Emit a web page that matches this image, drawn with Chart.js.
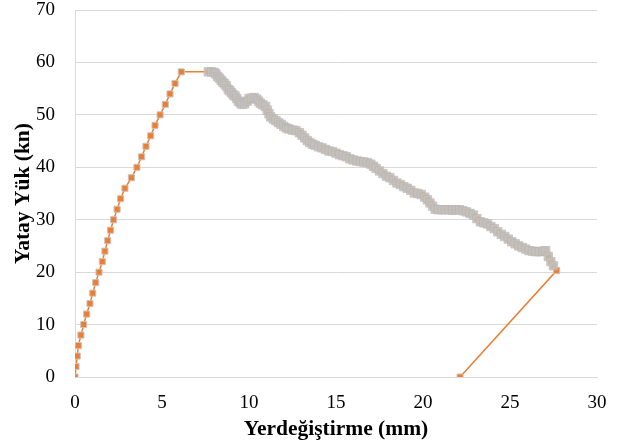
<!DOCTYPE html>
<html>
<head>
<meta charset="utf-8">
<script src="https://cdn.jsdelivr.net/npm/chart.js@4"></script>
<style>
html,body{margin:0;padding:0;background:#fff;}
#wrap{width:618px;height:448px;position:relative;}
</style>
</head>
<body>
<div id="wrap"><canvas id="c" width="618" height="448"></canvas></div>
<script>
// Loading branch (before peak), mm / kN
const preX = [0,0.06,0.13,0.19,0.34,0.5,0.67,0.86,1.02,1.19,1.38,1.57,1.72,1.88,2.04,2.22,2.42,2.62,2.87,3.24,3.56,3.83,4.08,4.35,4.60,4.89,5.19,5.46,5.75,6.11];
const preY = [0,2,4,6,8,10,12,14,16,18,20,22,24,26,28,30,32,34,36,38,40,42,44,46,48,50,52,54,56,58.2];
// Softening branch (after peak)
const postX = [7.66,7.85,8.0,8.1,8.2,8.3,8.4,8.5,8.6,8.7,8.8,8.9,9.0,9.1,9.2,9.3,9.4,9.5,9.6,9.75,9.9,10.0,10.15,10.3,10.45,10.55,10.65,10.8,10.95,11.05,11.15,11.25,11.4,11.55,11.7,11.85,12.0,12.15,12.3,12.5,12.7,12.9,13.05,13.2,13.35,13.5,13.65,13.8,14.0,14.2,14.4,14.6,14.8,15.0,15.2,15.4,15.6,15.8,16.0,16.2,16.4,16.6,16.8,17.0,17.15,17.3,17.5,17.7,17.9,18.1,18.3,18.5,18.7,18.9,19.1,19.3,19.5,19.7,19.9,20.1,20.25,20.4,20.55,20.7,20.9,21.1,21.3,21.5,21.7,21.9,22.1,22.3,22.5,22.7,22.9,23.1,23.3,23.5,23.7,23.9,24.1,24.3,24.5,24.7,24.9,25.1,25.3,25.5,25.7,25.9,26.1,26.3,26.5,26.7,26.9,27.05,27.2,27.35,27.5];
const postY = [58.2,58.2,58.1,57.8,57.3,57.0,56.6,56.2,55.9,55.5,54.9,54.6,54.2,53.8,53.6,53.1,52.6,52.3,52.0,52.1,52.6,53.1,53.2,53.3,53.0,52.6,52.2,51.9,51.6,50.9,50.2,49.6,49.2,48.9,48.5,48.2,47.8,47.5,47.3,47.1,47.0,46.6,46.1,45.6,45.1,44.7,44.4,44.2,43.9,43.7,43.4,43.1,43.0,42.7,42.4,42.2,42.0,41.6,41.4,41.2,41.1,41.0,40.9,40.6,40.2,39.8,39.3,38.8,38.3,38.0,37.5,37.0,36.7,36.3,36.0,35.6,35.1,35.0,34.8,34.3,33.8,33.2,32.6,32.0,31.9,31.9,31.9,31.9,31.8,31.9,31.9,31.7,31.5,31.2,30.9,30.2,29.6,29.4,29.2,28.7,28.3,27.7,27.2,26.8,26.3,25.8,25.4,25.0,24.7,24.4,24.1,24.0,23.9,23.9,24.0,24.1,23.0,22.0,21.2];
// Final points (failure and unloading)
const endX = [27.68,22.13];
const endY = [20.3,0];
const xTicks = [0,5,10,15,20,25,30];
const yTicks = [0,10,20,30,40,50,60,70];
const xTitle = 'Yerdeğiştirme (mm)';
const yTitle = 'Yatay Yük (kn)';

const toPts = (xs, ys) => xs.map((x, i) => ({x: x, y: ys[i]}));
const orangePts = toPts(preX, preY).concat(toPts(postX, postY), toPts(endX, endY));
const grayPts = toPts(postX, postY);

const font = 'Liberation Serif';
new Chart(document.getElementById('c'), {
  type: 'scatter',
  data: {
    datasets: [
      {
        label: 'gray',
        data: grayPts,
        showLine: false,
        pointStyle: 'rect',
        pointRadius: 6,
        backgroundColor: 'rgba(196,193,190,0.75)',
        borderColor: 'rgba(182,179,176,0.6)',
        borderWidth: 1,
        order: 0
      },
      {
        label: 'orange',
        data: orangePts,
        showLine: true,
        borderColor: '#ED7D31',
        borderWidth: 1.5,
        pointStyle: 'rect',
        pointRadius: 4.3,
        pointBackgroundColor: '#ED7D31',
        pointBorderColor: '#C9C4C0',
        pointBorderWidth: 1,
        order: 1
      }
    ]
  },
  options: {
    responsive: false,
    animation: false,
    events: [],
    layout: {padding: 0},
    plugins: {legend: {display: false}, tooltip: {enabled: false}},
    scales: {
      x: {
        type: 'linear', min: 0, max: 30,
        afterBuildTicks: s => { s.ticks = xTicks.map(v => ({value: v})); },
        afterFit: s => { s.height = 71; s.paddingLeft = 0; s.paddingRight = 21; },
        grid: {display: false, drawTicks: false},
        border: {display: true, color: '#d9d9d9', width: 1},
        ticks: {padding: 15, color: '#000', font: {family: font, size: 19}, maxRotation: 0},
        title: {display: true, text: xTitle, color: '#000', font: {family: font, size: 21.5, weight: 'bold'}, padding: {top: 0, bottom: 6}}
      },
      y: {
        type: 'linear', min: 0, max: 70,
        afterBuildTicks: s => { s.ticks = yTicks.map(v => ({value: v})); },
        afterFit: s => { s.width = 75; s.paddingTop = 10; s.paddingBottom = 0; },
        grid: {color: '#d9d9d9', lineWidth: 1, drawTicks: false},
        border: {display: true, color: '#d9d9d9', width: 1},
        ticks: {padding: 20, color: '#000', font: {family: font, size: 19}},
        title: {display: true, text: yTitle, color: '#000', font: {family: font, size: 21.5, weight: 'bold'}, padding: {top: 11, bottom: 0}}
      }
    }
  }
});
</script>
</body>
</html>
